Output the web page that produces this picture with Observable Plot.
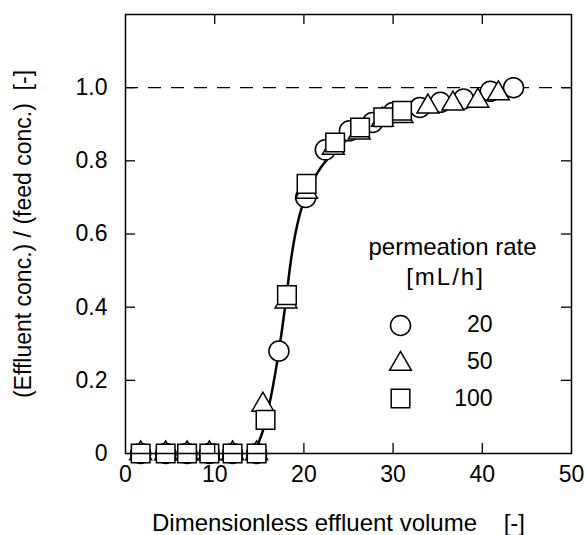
<!DOCTYPE html>
<html><head><meta charset="utf-8">
<script src="https://cdn.jsdelivr.net/npm/d3@7"></script>
<script src="https://cdn.jsdelivr.net/npm/@observablehq/plot@0.6"></script>
<style>body{margin:0;background:#fff} svg{display:block}</style>
</head><body><div id="chart"></div>
<script>
// permeation rate 20 mL/h (circles)
const rate20X = [1.7, 4.5, 6.9, 9.4, 12.0, 14.7, 17.2, 20.2, 22.4, 25.1, 27.7, 30.0, 33.0, 35.3, 37.9, 40.9, 43.5];
const rate20Y = [0, 0, 0, 0, 0, 0, 0.28, 0.70, 0.83, 0.882, 0.905, 0.932, 0.946, 0.96, 0.969, 0.99, 1.0];
// permeation rate 50 mL/h (triangles)
const rate50X = [1.7, 4.5, 6.9, 9.4, 12.0, 14.7, 15.4, 18.0, 20.3, 23.3, 26.2, 28.8, 31.0, 33.9, 36.7, 39.5, 41.8];
const rate50Y = [0, 0, 0, 0, 0, 0, 0.133, 0.415, 0.715, 0.835, 0.877, 0.912, 0.922, 0.948, 0.956, 0.964, 0.984];
// permeation rate 100 mL/h (squares)
const rate100X = [1.7, 4.5, 6.9, 9.4, 12.0, 14.7, 15.7, 18.1, 20.3, 23.5, 26.3, 28.9, 31.0];
const rate100Y = [0, 0, 0, 0, 0, 0, 0.092, 0.433, 0.737, 0.85, 0.891, 0.919, 0.937];
// fitted curve
const curveX = [14.0, 14.5, 15.0, 15.5, 16.0, 16.5, 17.0, 17.5, 18.0, 18.5, 19.0, 19.5, 20.0, 21.0, 22.0, 23.0, 24.0, 25.0, 26.0, 28.0, 30.0, 32.0, 34.0, 36.0, 38.0, 40.0, 41.5];
const curveY = [0, 0.01, 0.035, 0.07, 0.12, 0.18, 0.25, 0.33, 0.42, 0.52, 0.595, 0.65, 0.69, 0.745, 0.785, 0.815, 0.84, 0.862, 0.878, 0.905, 0.925, 0.94, 0.952, 0.962, 0.971, 0.979, 0.985];

const xTicks = [0, 10, 20, 30, 40, 50];
const yTicks = [0, 0.2, 0.4, 0.6, 0.8, 1.0];
const yTickLabels = ["0", "0.2", "0.4", "0.6", "0.8", "1.0"];
const innerXTicks = [10, 20, 30, 40];
const innerYTicks = [0.2, 0.4, 0.6, 0.8, 1.0];
const referenceLevel = [1.0];
const xTitle = "Dimensionless effluent volume\u00a0\u00a0\u00a0\u00a0[-]";
const yTitle = "(Effluent conc.) / (feed conc.)\u00a0\u00a0[-]";
const legendTitle = ["permeation rate", "[mL/h]"];
const legendRates = ["20", "50", "100"];
const legendSymbols = ["circle", "triangle", "square"];

const toRows = (xs, ys) => xs.map((x, i) => ({x, y: ys[i]}));
const s20 = toRows(rate20X, rate20Y);
const s50 = toRows(rate50X, rate50Y);
const s100 = toRows(rate100X, rate100Y);
const curve = toRows(curveX, curveY);

const W = 585, H = 535, mL = 125, mR = 14, mT = 14, mB = 82;
const pw = W - mL - mR, ph = H - mT - mB;
const tick = 10;
const symR = {circle: 10, triangle: 8.1, square: 10.5};
const font = "'Liberation Sans', Arial, Helvetica, sans-serif";

const legendMarks = [];
legendMarks.push(Plot.text([legendTitle[0]], {frameAnchor: "top-left", dx: 327, dy: 233, text: d => d, textAnchor: "middle", lineAnchor: "middle", fontSize: 24}));
legendMarks.push(Plot.text([legendTitle[1]], {frameAnchor: "top-left", dx: 320, dy: 263, text: d => d, textAnchor: "middle", lineAnchor: "middle", fontSize: 24}));
legendSymbols.forEach((sym, i) => {
  const dyS = [311, 349.5, 384][i];
  legendMarks.push(Plot.dot([sym], {frameAnchor: "top-left", dx: 275, dy: dyS, symbol: sym, r: symR[sym], fill: "white", stroke: "black", strokeWidth: 1.5}));
  legendMarks.push(Plot.text([legendRates[i]], {frameAnchor: "top-left", dx: 367, dy: 310.5 + i * 36.6, text: d => d, textAnchor: "end", lineAnchor: "middle", fontSize: 23}));
});

const chart = Plot.plot({
  width: W, height: H,
  marginLeft: mL, marginRight: mR, marginTop: mT, marginBottom: mB,
  x: {domain: [0, 50]},
  y: {domain: [0, 1.2]},
  style: {fontFamily: font, fontSize: "22px", color: "black", background: "white"},
  marks: [
    Plot.ruleY(referenceLevel, {stroke: "black", strokeWidth: 1.3, strokeDasharray: "13,10"}),
    Plot.line(curve, {x: "x", y: "y", curve: "monotone-x", stroke: "black", strokeWidth: 2.5}),
    Plot.dot(s20, {x: "x", y: "y", symbol: "circle", r: symR.circle, fill: "white", stroke: "black", strokeWidth: 1.5}),
    Plot.dot(s50, {x: "x", y: "y", symbol: "triangle", r: symR.triangle, fill: "white", stroke: "black", strokeWidth: 1.5}),
    Plot.dot(s100, {x: "x", y: "y", symbol: "square", r: symR.square, fill: "white", stroke: "black", strokeWidth: 1.5}),
    Plot.tickY(innerYTicks, {y: d => d, insetRight: pw - tick, stroke: "black", strokeWidth: 1.3}),
    Plot.tickY(innerYTicks, {y: d => d, insetLeft: pw - tick, stroke: "black", strokeWidth: 1.3}),
    Plot.tickX(innerXTicks, {x: d => d, insetTop: ph - tick, stroke: "black", strokeWidth: 1.3}),
    Plot.tickX(innerXTicks, {x: d => d, insetBottom: ph - tick, stroke: "black", strokeWidth: 1.3}),
    Plot.frame({stroke: "black", strokeWidth: 1.5}),
    Plot.axisX({ticks: xTicks, tickSize: 0, tickPadding: 12, label: null, fontSize: 23}),
    Plot.axisY({ticks: yTicks, tickFormat: d => yTickLabels[yTicks.indexOf(d)], tickSize: 0, tickPadding: 18, label: null, fontSize: 23}),
    Plot.text([xTitle], {frameAnchor: "bottom", dx: -10, dy: 77, text: d => d, textAnchor: "middle", lineAnchor: "bottom", fontSize: 24}),
    Plot.text([yTitle], {frameAnchor: "left", dx: -95, dy: 0, rotate: -90, text: d => d, textAnchor: "middle", lineAnchor: "bottom", fontSize: 23}),
    ...legendMarks
  ]
});
d3.select(chart).selectAll("text").filter(function() { return this.textContent === legendTitle[1]; }).attr("letter-spacing", 2);
document.getElementById("chart").appendChild(chart);
</script>
</body></html>
